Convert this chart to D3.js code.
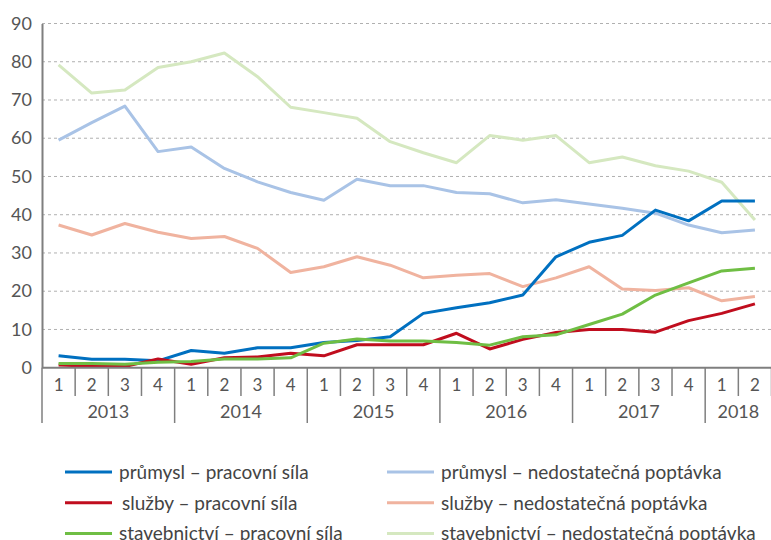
<!DOCTYPE html>
<html><head><meta charset="utf-8">
<script src="https://cdn.jsdelivr.net/npm/d3@7"></script>
<style>body{margin:0;background:#fff}svg{display:block}text{font-family:Lato,"Open Sans",sans-serif}</style>
</head><body><svg id="c" width="771" height="540"></svg>
<script>
const years = ["2013","2014","2015","2016","2017","2018"];
const quarters = ["1","2","3","4","1","2","3","4","1","2","3","4","1","2","3","4","1","2","3","4","1","2"];
const yearOfPoint = [0,0,0,0,1,1,1,1,2,2,2,2,3,3,3,3,4,4,4,4,5,5];
const yTicks = [0,10,20,30,40,50,60,70,80,90];

const prumyslPrac = [3.1,2.2,2.2,1.8,4.5,3.8,5.2,5.2,6.6,7.1,8.1,14.2,15.7,17.0,19.0,29.0,32.8,34.6,41.2,38.4,43.6,43.6];
const prumyslNedost = [59.5,64.1,68.4,56.5,57.7,52.1,48.6,45.8,43.8,49.3,47.6,47.6,45.8,45.5,43.1,43.9,42.8,41.7,40.4,37.3,35.3,36.0];
const sluzbyPrac = [0.7,0.4,0.3,2.3,0.9,2.6,2.8,3.8,3.1,6.0,6.0,6.0,9.0,4.9,7.4,9.2,10.0,10.0,9.3,12.3,14.2,16.7];
const sluzbyNedost = [37.3,34.7,37.7,35.4,33.8,34.3,31.2,24.9,26.4,29.0,26.8,23.5,24.2,24.6,21.2,23.5,26.4,20.6,20.2,20.9,17.5,18.6];
const stavPrac = [1.1,1.1,0.9,1.4,1.6,2.3,2.3,2.6,6.4,7.5,7.0,7.0,6.6,5.9,8.1,8.6,11.3,14.0,19.0,22.2,25.3,26.0];
const stavNedost = [79.2,71.8,72.6,78.5,80.0,82.3,76.1,68.1,66.7,65.2,59.1,56.2,53.6,60.7,59.5,60.7,53.6,55.1,52.8,51.4,48.5,38.6];

const seriesNames = ["průmysl – pracovní síla","průmysl – nedostatečná poptávka","služby – pracovní síla","služby – nedostatečná poptávka","stavebnictví – pracovní síla","stavebnictví – nedostatečná poptávka"];
const seriesData = [prumyslPrac, prumyslNedost, sluzbyPrac, sluzbyNedost, stavPrac, stavNedost];
const seriesColors = ["#0070c0","#a9c3e6","#c00d1e","#f0b39f","#6fbe44","#d5e8c0"];

const svg = d3.select("#c");
const L = 42, R = 771.5, T = 23.5, B = 367.7;
const idx = d3.range(quarters.length);
const x = d3.scaleBand().domain(idx).range([L, R]).padding(0);
const y = d3.scaleLinear().domain([0, 90]).range([B, T]);
const cx = i => x(i) + x.bandwidth()/2;

// gridlines
svg.append("g").selectAll("line").data(yTicks.filter(d => d > 0)).join("line")
  .attr("x1", L).attr("x2", R).attr("y1", d => y(d)).attr("y2", d => y(d))
  .attr("stroke", "#b0b0b0").attr("stroke-width", 1).attr("stroke-dasharray", "3,3");

// y axis
const yAxis = d3.axisLeft(y).tickValues(yTicks).tickSize(0).tickPadding(10);
const ya = svg.append("g").attr("transform", `translate(${L},0)`).call(yAxis);
ya.select(".domain").attr("stroke", "#7f7f7f").attr("stroke-width", 2);
ya.selectAll("text").attr("font-size", 18).attr("fill", "#555").style("font-family", "Lato, sans-serif");

// x axis categories
const xa = svg.append("g");
xa.selectAll("line.q").data(d3.range(quarters.length + 1)).join("line")
  .attr("class", "q")
  .attr("x1", i => L + i * x.bandwidth()).attr("x2", i => L + i * x.bandwidth())
  .attr("y1", B).attr("y2", i => (i === 0 || (i < quarters.length && yearOfPoint[i] !== yearOfPoint[i-1])) ? 423 : 396)
  .attr("stroke", "#7f7f7f").attr("stroke-width", 1.5);
xa.selectAll("text.q").data(quarters).join("text")
  .attr("x", (d, i) => cx(i)).attr("y", 391).attr("text-anchor", "middle")
  .attr("font-size", 17).attr("fill", "#555").text(d => d);
xa.selectAll("text.y").data(years).join("text")
  .attr("x", (d, k) => {
    const pts = idx.filter(i => yearOfPoint[i] === k);
    return (x(pts[0]) + x(pts[pts.length-1]) + x.bandwidth()) / 2;
  })
  .attr("y", 418).attr("text-anchor", "middle")
  .attr("font-size", 18).attr("fill", "#555").text(d => d);

// lines
const line = d3.line().x((d, i) => cx(i)).y(d => y(d));
const order = [1, 3, 5, 0, 2, 4];
svg.append("g").selectAll("path").data(order).join("path")
  .attr("d", k => line(seriesData[k]))
  .attr("fill", "none").attr("stroke", k => seriesColors[k])
  .attr("stroke-width", 3).attr("stroke-linejoin", "round");

// axis baseline on top
svg.append("line").attr("x1", L).attr("x2", R).attr("y1", B).attr("y2", B)
  .attr("stroke", "#7f7f7f").attr("stroke-width", 2);

// legend
const lg = svg.append("g");
const leg = lg.selectAll("g").data(seriesNames).join("g")
  .attr("transform", (d, i) => `translate(${i % 2 === 0 ? 65 : 387},${472 + Math.floor(i/2) * 30.7})`);
leg.append("line").attr("x1", 0).attr("x2", 47).attr("y1", 0).attr("y2", 0)
  .attr("stroke", (d, i) => seriesColors[i]).attr("stroke-width", 3);
leg.append("text").attr("x", (d, i) => i === 2 ? 57 : 54).attr("y", 7)
  .attr("font-size", 19).attr("fill", "#444").text(d => d);
</script></body></html>
